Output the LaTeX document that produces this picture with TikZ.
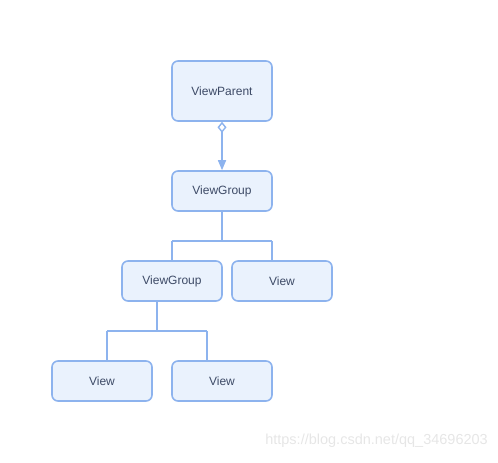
\documentclass[tikz,border=0pt]{standalone}
\usepackage{fontspec}
\setmainfont{Liberation Sans}
\usetikzlibrary{arrows.meta}
\definecolor{boxline}{HTML}{8DB3EE}
\definecolor{boxfill}{HTML}{EAF2FD}
\definecolor{boxtext}{HTML}{3D4A66}
\definecolor{wmark}{HTML}{E6E6E6}
\begin{document}
\begin{tikzpicture}[x=1pt,y=-1pt,
  cls/.style={draw=boxline, fill=boxfill, line width=1.6pt, rounded corners=6pt,
    minimum width=100pt, text=boxtext, inner sep=0pt,
    font=\fontsize{12}{14}\selectfont},
  conn/.style={draw=boxline, line width=1.6pt},
]
\useasboundingbox (0,0) rectangle (498,463);
\node[cls, minimum height=60pt] (vp) at (222,91) {ViewParent};
\node[cls, minimum height=40pt] (vg1) at (222,191) {ViewGroup};
\node[cls, minimum height=40pt] (vg2) at (172,281) {ViewGroup};
\node[cls, minimum height=40pt] (v1) at (282,281) {View};
\node[cls, minimum height=40pt] (v2) at (102,381) {View};
\node[cls, minimum height=40pt] (v3) at (222,381) {View};
\draw[conn, {Diamond[open,fill=white,length=11pt,width=9pt,line width=1.4pt]}-{Triangle[length=10pt,width=8pt]}] (vp.south) -- (vg1.north);
\coordinate (a1) at (222,241);
\draw[conn] (vg1.south) -- (a1);
\draw[conn] (172,241) -- (272,241);
\draw[conn] (172,241) -- (vg2.north);
\draw[conn] (272,241) -- (272,261);
\coordinate (b1) at (157,331);
\draw[conn] (157,301) -- (b1);
\draw[conn] (107,331) -- (207,331);
\draw[conn] (107,331) -- (107,361);
\draw[conn] (207,331) -- (207,361);
\node[text=wmark, anchor=east, inner sep=0pt, font=\fontsize{14.5}{16}\selectfont] (wm) at (488,441) {https://blog.csdn.net/qq\_34696203};
\end{tikzpicture}
\end{document}
